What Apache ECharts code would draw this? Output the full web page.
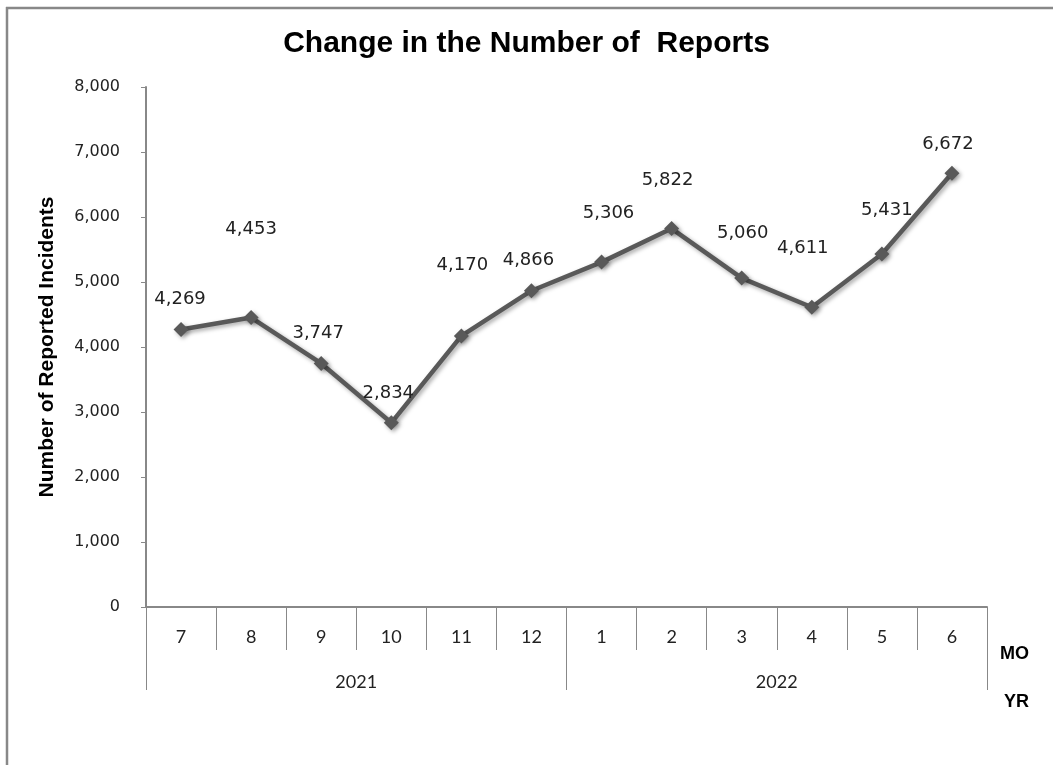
<!DOCTYPE html>
<html>
<head>
<meta charset="utf-8">
<script src="https://cdn.jsdelivr.net/npm/echarts@6/dist/echarts.min.js"></script>
<style>
html,body{margin:0;padding:0;background:#fff;}
#chart{width:1053px;height:765px;}
</style>
</head>
<body>
<div id="chart"></div>
<script>
const months = ['7','8','9','10','11','12','1','2','3','4','5','6'];
const years = ['2021','2022'];
const reports = [4269, 4453, 3747, 2834, 4170, 4866, 5306, 5822, 5060, 4611, 5431, 6672];
const yTicks = {min: 0, max: 8000, interval: 1000};

// label placement tweaks (layout only, mimic the reference's label positions)
const labelOffsets = [[-1,-30],[0,-88],[-3,-30],[-3,-29],[1,-71],[-3,-30],[7,-49],[-4,-48],[1,-45],[-9,-59],[5,-44],[-4,-29]];

const numFmt = v => v.toLocaleString('en-US');
const labelFont = '"DejaVu Sans", sans-serif';
const catFont = 'Lato, "Open Sans", sans-serif';

const chart = echarts.init(document.getElementById('chart'));
chart.setOption({
  backgroundColor: '#fff',
  animation: false,
  title: {
    text: 'Change in the Number of  Reports',
    left: 'center',
    top: 24,
    textStyle: {fontFamily: '"Liberation Sans", Arial, sans-serif', fontWeight: 'bold', fontSize: 30, color: '#000'}
  },
  grid: {left: 146, right: 66, top: 87, bottom: 158},
  xAxis: [
    {
      type: 'category',
      data: months,
      position: 'bottom',
      boundaryGap: true,
      axisLine: {show: true, lineStyle: {color: '#888', width: 2}},
      axisTick: {show: true, length: 43, lineStyle: {color: '#888', width: 1}},
      axisLabel: {margin: 21, fontSize: 18, color: '#222', fontFamily: catFont}
    },
    {
      type: 'category',
      data: years,
      position: 'bottom',
      offset: 43,
      boundaryGap: true,
      axisLine: {show: false},
      axisTick: {show: true, length: 40, lineStyle: {color: '#888', width: 1}},
      axisLabel: {margin: 23, fontSize: 18, color: '#222', fontFamily: catFont}
    }
  ],
  yAxis: {
    type: 'value',
    min: yTicks.min,
    max: yTicks.max,
    interval: yTicks.interval,
    name: 'Number of Reported Incidents',
    nameLocation: 'middle',
    nameGap: 88,
    nameTextStyle: {fontFamily: '"Liberation Sans", Arial, sans-serif', fontWeight: 'bold', fontSize: 21, color: '#000'},
    axisLine: {show: true, lineStyle: {color: '#888', width: 2}},
    axisTick: {show: true, length: 5, lineStyle: {color: '#888', width: 1}},
    splitLine: {show: false},
    axisLabel: {margin: 26, fontSize: 16, color: '#222', fontFamily: labelFont, formatter: v => numFmt(v)}
  },
  graphic: [
    {type: 'line', shape: {x1: 6, y1: 8, x2: 1053, y2: 8}, style: {stroke: '#888', lineWidth: 2.5}},
    {type: 'line', shape: {x1: 7, y1: 7, x2: 7, y2: 765}, style: {stroke: '#888', lineWidth: 2.5}},
    {type: 'text', left: 1000, top: 645, style: {text: 'MO', font: 'bold 18px "Liberation Sans", Arial, sans-serif', fill: '#000'}},
    {type: 'text', left: 1004, top: 693, style: {text: 'YR', font: 'bold 18px "Liberation Sans", Arial, sans-serif', fill: '#000'}}
  ],
  series: [{
    type: 'line',
    data: reports.map((v, i) => ({
      value: v,
      label: {offset: labelOffsets[i]}
    })),
    symbol: 'diamond',
    symbolSize: 15,
    lineStyle: {color: '#595959', width: 4.5, shadowColor: 'rgba(0,0,0,0.35)', shadowBlur: 4, shadowOffsetX: 2, shadowOffsetY: 2},
    itemStyle: {color: '#595959', shadowColor: 'rgba(0,0,0,0.35)', shadowBlur: 4, shadowOffsetX: 2, shadowOffsetY: 2},
    label: {
      show: true,
      position: 'inside',
      formatter: p => numFmt(p.value),
      fontSize: 18,
      color: '#222',
      fontFamily: labelFont
    }
  }]
});
</script>
</body>
</html>
